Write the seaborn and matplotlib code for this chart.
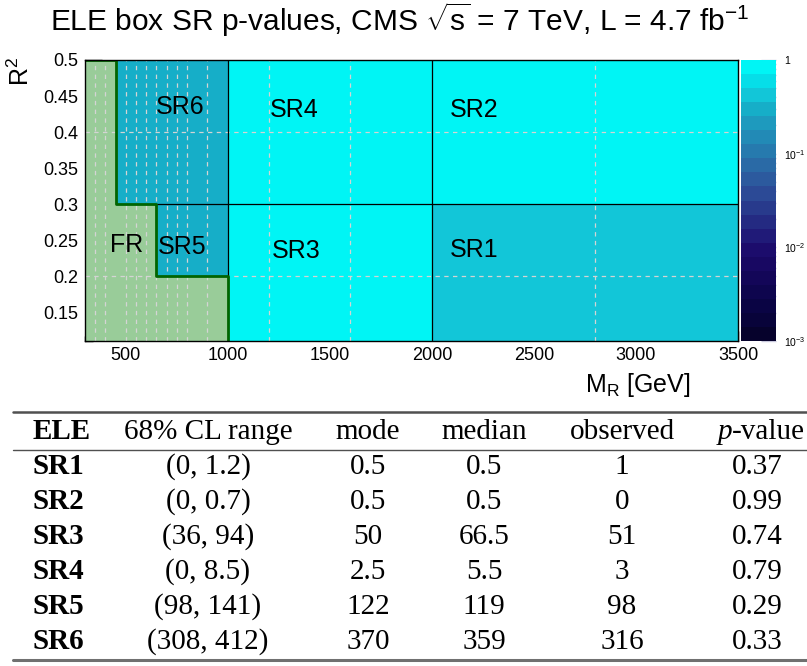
import numpy as np
import matplotlib
matplotlib.use('Agg')
import matplotlib.pyplot as plt
import seaborn as sns
from matplotlib.colors import LogNorm, ListedColormap
from matplotlib.ticker import MultipleLocator, FixedLocator, LogLocator, NullFormatter
from matplotlib.patches import Polygon
from matplotlib.lines import Line2D

# ---------------- data ----------------
regions = ['SR1', 'SR2', 'SR3', 'SR4', 'SR5', 'SR6']
p_values = [0.37, 0.99, 0.74, 0.79, 0.29, 0.33]
mr_low = [2000, 2000, 1000, 1000, 650, 450]
mr_high = [3500, 3500, 2000, 2000, 1000, 1000]
r2_low = [0.11, 0.3, 0.11, 0.3, 0.2, 0.3]
r2_high = [0.3, 0.5, 0.3, 0.5, 0.3, 0.5]

fr_mr = [300, 300, 450, 450, 650, 650, 1000, 1000]
fr_r2 = [0.11, 0.5, 0.5, 0.3, 0.3, 0.2, 0.2, 0.11]

table_header = ['ELE', '68% CL range', 'mode', 'median', 'observed', 'p-value']
cl_range = ['(0, 1.2)', '(0, 0.7)', '(36, 94)', '(0, 8.5)', '(98, 141)', '(308, 412)']
mode_vals = ['0.5', '0.5', '50', '2.5', '122', '370']
median_vals = ['0.5', '0.5', '66.5', '5.5', '119', '359']
observed_vals = ['1', '0', '51', '3', '98', '316']
pvalue_txt = ['0.37', '0.99', '0.74', '0.79', '0.29', '0.33']

# ---------------- style ----------------
sns.set_style('white')
plt.rcParams['font.family'] = ['Liberation Sans', 'DejaVu Sans']
plt.rcParams['mathtext.fontset'] = 'custom'
plt.rcParams['mathtext.rm'] = 'Liberation Sans'
plt.rcParams['mathtext.it'] = 'Liberation Sans:italic'
plt.rcParams['mathtext.bf'] = 'Liberation Sans:bold'
for k in ['text.color', 'axes.labelcolor', 'xtick.color', 'ytick.color']:
    plt.rcParams[k] = 'black'

band_colors = ['#06022C', '#08033A', '#0A0444', '#0E054E', '#130658', '#180862',
               '#1C0C6C', '#201A78', '#242A82', '#283A8C', '#2C4A96', '#2C5A9E',
               '#2A6AA6', '#267AAE', '#228AB6', '#1E9ABE', '#16AEC8', '#12C6D8',
               '#06DEE8', '#00F5F5']
cmap = ListedColormap(sns.color_palette(band_colors))
norm = LogNorm(vmin=1e-3, vmax=1.0)

W, H = 807, 666
fig = plt.figure(figsize=(W / 100, H / 100), dpi=100)
fig.patch.set_facecolor('white')


def fx(px):
    return px / W


def fy(py):
    return 1 - py / H


L, R, T, B = 85, 738, 60, 341
ax = fig.add_axes([fx(L), fy(B), fx(R) - fx(L), fy(T) - fy(B)])
ax.set_xlim(300, 3500)
ax.set_ylim(0.11, 0.5)

# regions
for lo, hi, ylo, yhi, p in zip(mr_low, mr_high, r2_low, r2_high, p_values):
    ax.pcolormesh([lo, hi], [ylo, yhi], np.array([[p]]), cmap=cmap, norm=norm,
                  shading='flat', zorder=1)

ax.add_patch(Polygon(np.column_stack([fr_mr, fr_r2]), closed=True,
                     facecolor='#99CC99', edgecolor='none', zorder=1))

# dashed grid
grid_mr = [350, 400, 500, 550, 600, 650, 700, 750, 800, 900, 1200, 1600, 2800]
grid_r2 = [0.2, 0.4]
for g in grid_mr:
    ax.axvline(g, color='#d4d4d4', lw=0.9, ls=(0, (3.5, 3.5)), zorder=2)
for g in grid_r2:
    ax.axhline(g, color='#d4d4d4', lw=0.9, ls=(0, (3.5, 3.5)), zorder=2)

# black region borders
ax.plot([1000, 1000], [0.2, 0.5], color='black', lw=0.9, zorder=3)
ax.plot([2000, 2000], [0.11, 0.5], color='black', lw=0.9, zorder=3)
ax.plot([650, 3500], [0.3, 0.3], color='black', lw=0.9, zorder=3)
# FR boundary
ax.plot(fr_mr[1:], fr_r2[1:], color='#006400', lw=2.0, zorder=4)

# region labels
label_pos = {'SR6': (648, 0.435), 'SR4': (1207, 0.431), 'SR2': (2089, 0.431),
             'SR5': (658, 0.240), 'SR3': (1216, 0.235), 'SR1': (2089, 0.236),
             'FR': (422, 0.243)}
for name, (px, py) in label_pos.items():
    ax.text(px, py, name, fontsize=18, ha='left', va='center', color='black', zorder=5)

# axes ticks
ax.xaxis.set_major_locator(FixedLocator([500, 1000, 1500, 2000, 2500, 3000, 3500]))
ax.xaxis.set_minor_locator(MultipleLocator(100))
ax.yaxis.set_major_locator(FixedLocator([0.15, 0.2, 0.25, 0.3, 0.35, 0.4, 0.45, 0.5]))
ax.yaxis.set_minor_locator(MultipleLocator(0.01))
ax.set_yticklabels(['0.15', '0.2', '0.25', '0.3', '0.35', '0.4', '0.45', '0.5'])
ax.tick_params(axis='x', which='major', direction='in', length=7, width=1,
               labelsize=13, pad=4, bottom=True, top=False, colors='black')
ax.tick_params(axis='x', which='minor', direction='in', length=3.5, width=1,
               bottom=True, top=False, colors='black')
ax.tick_params(axis='y', which='major', direction='in', length=12, width=1,
               labelsize=13, pad=5, left=True, right=False, colors='black')
ax.tick_params(axis='y', which='minor', direction='in', length=6, width=1,
               left=True, right=False, colors='black')
for s in ax.spines.values():
    s.set_color('black')
    s.set_linewidth(1.0)
    s.set_zorder(6)

# titles
fig.text(0.495, fy(20), r'ELE box SR p-values, CMS $\sqrt{\mathrm{s}}$ = 7 TeV, L = 4.7 fb$^{\mathrm{-1}}$',
         fontsize=21.5, ha='center', va='center', color='black')
fig.text(fx(690), fy(385), r'M$_{\mathrm{R}}$ [GeV]', fontsize=18, ha='right', va='center',
         color='black')
fig.text(fx(21), fy(57), r'R$^{\mathrm{2}}$', fontsize=18, ha='center', va='top', rotation=90,
         color='black')

# colorbar
cax = fig.add_axes([fx(741), fy(B), fx(776) - fx(741), fy(T) - fy(B)])
sm = matplotlib.cm.ScalarMappable(norm=norm, cmap=cmap)
cb = fig.colorbar(sm, cax=cax)
cb.outline.set_visible(False)
cax.yaxis.set_ticks_position('right')
cax.set_yticks([1e-3, 1e-2, 1e-1, 1])
cax.set_yticklabels([r'10$^{-3}$', r'10$^{-2}$', r'10$^{-1}$', '1'])
cax.yaxis.set_minor_locator(LogLocator(base=10, subs=np.arange(2, 10)))
cax.yaxis.set_minor_formatter(NullFormatter())
cax.tick_params(which='major', direction='in', length=11, width=1, color='#c8c8dc',
                labelsize=7.5, pad=6, labelcolor='black')
cax.tick_params(which='minor', direction='in', length=5.5, width=1, color='#c8c8dc')

# ---------------- table ----------------
serif = ['Liberation Serif', 'DejaVu Serif']
fs = 21
fig.add_artist(Line2D([fx(13), fx(807)], [fy(412), fy(412)], lw=1.8, color='#505050',
                      transform=fig.transFigure))
fig.add_artist(Line2D([fx(13), fx(807)], [fy(450), fy(450)], lw=1.0, color='#505050',
                      transform=fig.transFigure))
fig.add_artist(Line2D([fx(13), fx(807)], [fy(660), fy(660)], lw=2.2, color='#707070',
                      transform=fig.transFigure))

col_x = [208, 368, 484, 622, 757]
hb = 439
fig.text(fx(33), fy(hb), table_header[0], fontsize=fs, family=serif, weight='bold',
         ha='left', va='baseline', color='black')
for cx, h in zip(col_x[:4], table_header[1:5]):
    fig.text(fx(cx), fy(hb), h, fontsize=fs, family=serif, ha='center', va='baseline',
             color='black')
fig.text(fx(732), fy(hb), 'p', fontsize=fs, family=serif, style='italic',
         ha='right', va='baseline', color='black')
fig.text(fx(732), fy(hb), '-value', fontsize=fs, family=serif, ha='left', va='baseline',
         color='black')

for i, name in enumerate(regions):
    yb = 474 + 35 * i
    fig.text(fx(33), fy(yb), name, fontsize=fs, family=serif, weight='bold',
             ha='left', va='baseline', color='black')
    for cx, v in zip(col_x, [cl_range[i], mode_vals[i], median_vals[i],
                             observed_vals[i], pvalue_txt[i]]):
        fig.text(fx(cx), fy(yb), v, fontsize=fs, family=serif, ha='center', va='baseline',
                 color='black')

fig.savefig('out.png', dpi=100)
